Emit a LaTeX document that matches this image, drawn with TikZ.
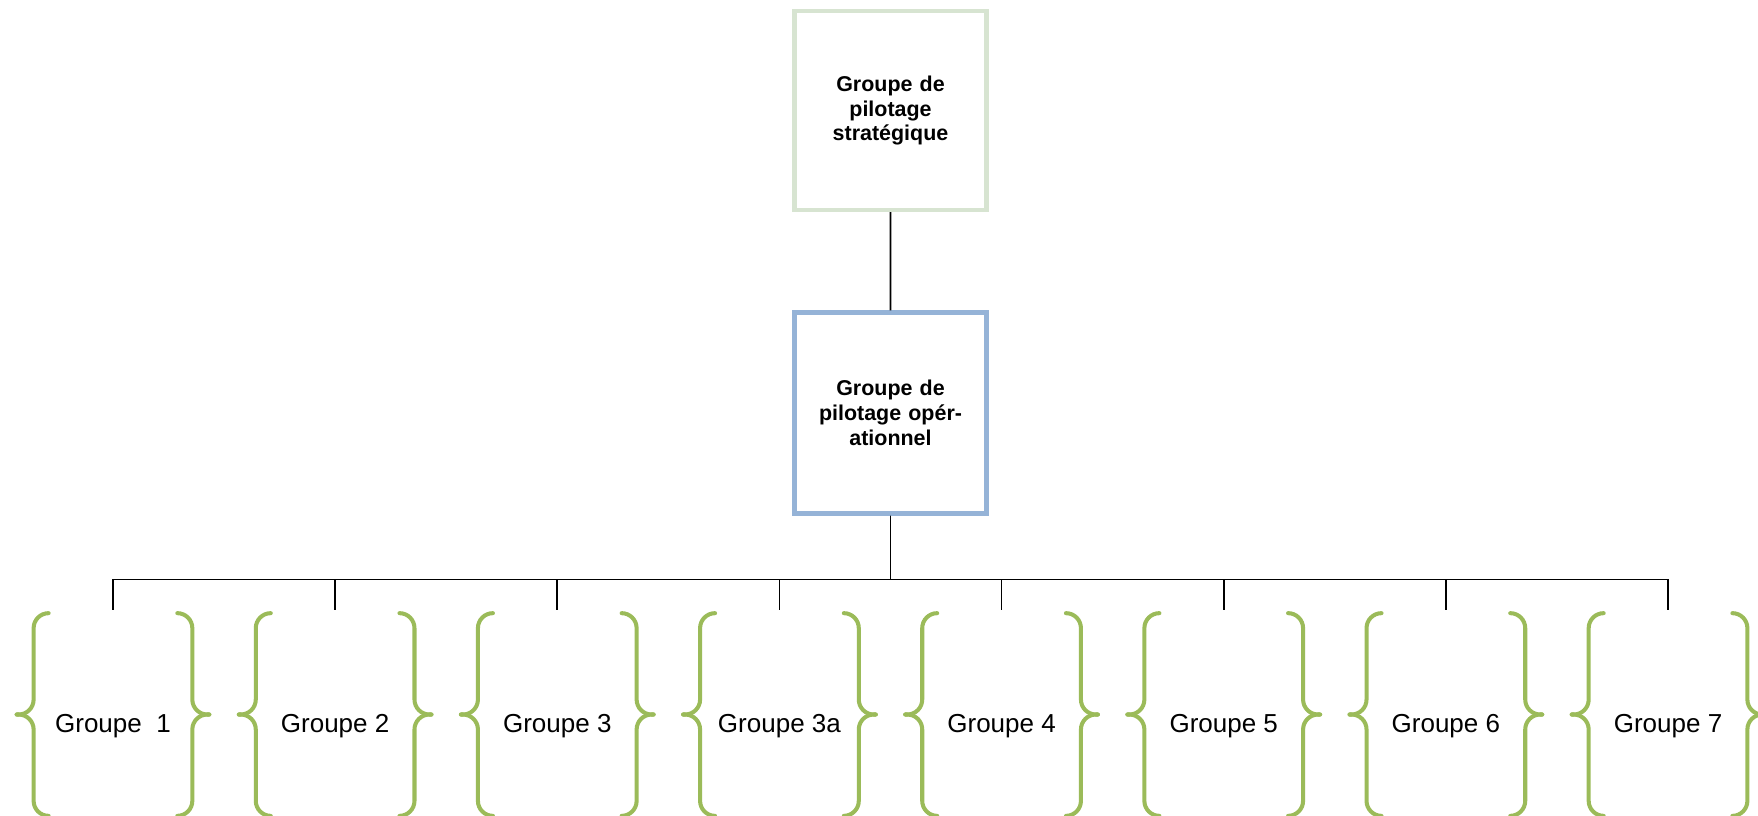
\documentclass[tikz,border=0pt]{standalone}
\usepackage{fontspec}
\setmainfont{Liberation Sans}
\definecolor{stratline}{RGB}{215,228,209}
\definecolor{opline}{RGB}{149,179,215}
\definecolor{groupgreen}{RGB}{155,187,89}

\begin{document}
\begin{tikzpicture}
        \tikzstyle{pilot}=[rectangle,draw,line width=2.3pt,minimum width=3.84cm,text width=3.3cm,align=center,font=\bfseries\fontsize{12.2}{14.2}\selectfont]
        \tikzstyle{groupe}=[inner sep=0pt,minimum width=2.56cm,minimum height=4.1cm,text height=1.18cm,text depth=0.4cm,font=\fontsize{14.8}{17}\selectfont]
        \tikzstyle{accolade}=[draw=groupgreen,line width=2.3pt,line cap=round,rounded corners=0.3cm]
        \tikzstyle{level 1}=[level distance=6.05cm,edge from parent/.style={draw,black,line width=1.1pt}]
        \tikzstyle{level 2}=[level distance=6cm,sibling distance=4.443cm,edge from parent/.style={draw,black,line width=1pt},
          edge from parent path={(\tikzparentnode.south) -- ++(0,-1.28) -| (\tikzchildnode.north)}]
        \useasboundingbox (0,0) rectangle (35.16,-16.3);
        \node[pilot,draw=stratline,minimum height=3.98cm] (strat) at (17.81,-2.21) {Groupe de\\pilotage\\stratégique}
        child {node[pilot,draw=opline,minimum height=4.02cm] (oper) {Groupe de\\pilotage opér-\\ationnel}
          child {node[groupe] (g1) {Groupe\ \ 1}}
          child {node[groupe] (g2) {Groupe 2}}
          child {node[groupe] (g3) {Groupe 3}}
          child {node[groupe] (g4) {Groupe 3a}}
          child {node[groupe] (g5) {Groupe 4}}
          child {node[groupe] (g6) {Groupe 5}}
          child {node[groupe] (g7) {Groupe 6}}
          child {node[groupe] (g8) {Groupe 7}}
        };
        % accolades
        \foreach \g in {1,...,8}{
          \draw[accolade] ([yshift=-0.06cm]g\g.north west) -- ++(-0.3,0) -- ([xshift=-0.3cm,yshift=-0.03cm]g\g.west) -- ([xshift=-0.64cm,yshift=-0.03cm]g\g.west);
          \draw[accolade] ([xshift=-0.64cm,yshift=-0.03cm]g\g.west) -- ([xshift=-0.3cm,yshift=-0.03cm]g\g.west) -- ([xshift=-0.3cm]g\g.south west) -- (g\g.south west);
          \draw[accolade] ([yshift=-0.06cm]g\g.north east) -- ++(0.3,0) -- ([xshift=0.3cm,yshift=-0.03cm]g\g.east) -- ([xshift=0.64cm,yshift=-0.03cm]g\g.east);
          \draw[accolade] ([xshift=0.64cm,yshift=-0.03cm]g\g.east) -- ([xshift=0.3cm,yshift=-0.03cm]g\g.east) -- ([xshift=0.3cm]g\g.south east) -- (g\g.south east);
        }
\end{tikzpicture}
\end{document}
